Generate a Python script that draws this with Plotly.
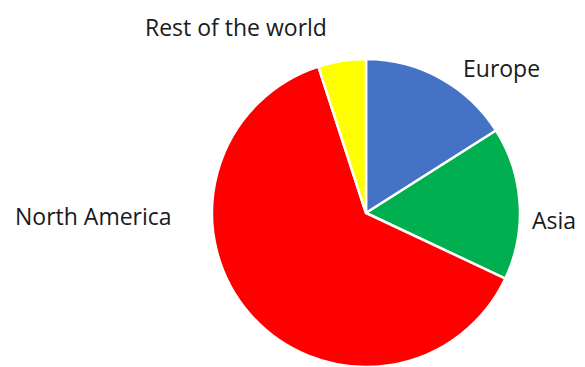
import plotly.graph_objects as go

labels = ["Europe", "Asia", "North America", "Rest of the world"]
values = [16, 16, 63, 5]
colors = ["#4472C4", "#00B050", "#FF0000", "#FFFF00"]

# figure size (page body has an 8px margin inside the 585x367 window)
W, H = 577, 359
cx, cy, r = 358, 205, 154

# outside label anchor positions in figure pixels
label_px = [493, 522, 85, 228]
label_py = [60, 212, 208, 19]
label_anchor = ["center", "left", "center", "center"]

fig = go.Figure(go.Pie(
    labels=labels,
    values=values,
    marker=dict(colors=colors, line=dict(color="white", width=2.5)),
    sort=False,
    direction="clockwise",
    rotation=0,
    textinfo="none",
    hoverinfo="label+value",
    showlegend=False,
    domain=dict(x=[(cx - r) / W, (cx + r) / W], y=[(H - cy - r) / H, (H - cy + r) / H]),
))

for lab, px, py, anc in zip(labels, label_px, label_py, label_anchor):
    fig.add_annotation(
        x=px / W, y=1 - py / H, xref="paper", yref="paper", text=lab, showarrow=False,
        xanchor=anc, yanchor="middle",
        font=dict(family="Open Sans", size=23, color="#1a1a1a"),
    )

fig.update_layout(
    width=W, height=H,
    margin=dict(l=0, r=0, t=0, b=0),
    paper_bgcolor="white",
    plot_bgcolor="white",
)

fig.write_html("out.html")
